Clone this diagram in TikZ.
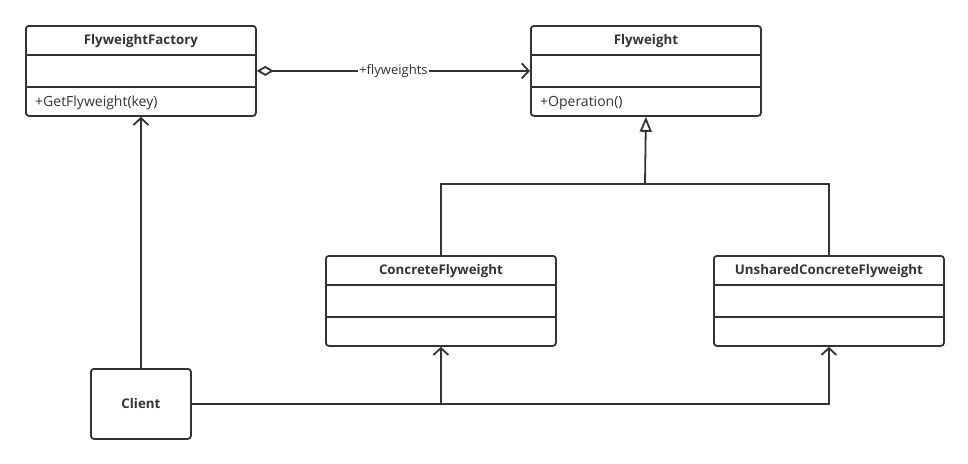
\documentclass[tikz,border=0pt]{standalone}
\usepackage{fontspec}
\setmainfont{Open Sans}
\usetikzlibrary{arrows.meta}
\definecolor{lc}{HTML}{333333}
\tikzset{
  cls/.style={draw=lc, line width=1.8pt, rounded corners=3pt, minimum width=230pt, minimum height=90pt, inner sep=0pt, anchor=north west},
  clientbox/.style={draw=lc, line width=1.8pt, rounded corners=3pt, minimum width=100pt, minimum height=70pt, inner sep=0pt, anchor=north west, font=\bfseries\fontsize{13.3}{15}\selectfont, text=lc},
  sep/.style={draw=lc, line width=1.8pt},
  ttl/.style={font=\bfseries\fontsize{13.3}{15}\selectfont, text=lc},
  mth/.style={font=\fontsize{14}{16}\selectfont, text=lc, anchor=west, inner sep=0pt},
  conn/.style={draw=lc, line width=1.8pt},
  opn/.style={conn, -{Straight Barb[length=7pt,width=15pt,line width=1.8pt]}},
  inh/.style={conn, -{Triangle[open,length=15pt,width=12pt,line width=1.8pt]}},
}
\begin{document}
\begin{tikzpicture}[x=1pt,y=-1pt]
\fill[white] (0,0) rectangle (968,463);
\useasboundingbox (0,0) rectangle (968,463);
% classes
\node[cls] (fac) at (25,25) {};
\node[cls] (fw) at (530,25) {};
\node[cls] (cf) at (325,255) {};
\node[cls] (ucf) at (713,255) {};
\foreach \n in {fac,fw,cf,ucf}{
  \draw[sep] ([yshift=-30pt]\n.north west) -- ([yshift=-30pt]\n.north east);
  \draw[sep] ([yshift=30pt]\n.south west) -- ([yshift=30pt]\n.south east);
}
\node[ttl] (facT) at ([yshift=-16pt]fac.north) {FlyweightFactory};
\node[ttl] (fwT) at ([yshift=-16pt]fw.north) {Flyweight};
\node[ttl] (cfT) at ([yshift=-16pt]cf.north) {ConcreteFlyweight};
\node[ttl] (ucfT) at ([yshift=-16pt]ucf.north) {UnsharedConcreteFlyweight};
\node[mth] (facM) at ([xshift=10pt,yshift=14pt]fac.south west) {+GetFlyweight(key)};
\node[mth] (fwM) at ([xshift=10pt,yshift=14pt]fw.south west) {+Operation()};
\node[clientbox] (cl) at (90,368) {Client};
% aggregation
\draw[conn, {Diamond[open,length=17pt,width=10pt,line width=1.8pt]}-{Straight Barb[length=7pt,width=15pt,line width=1.8pt]}]
  (fac.east) -- (fw.west)
  node[pos=0.5, fill=white, inner sep=1pt, text=lc, font=\fontsize{13}{15}\selectfont] (lbl) {+flyweights};
% generalization
\coordinate (j) at (645,184);
\draw[conn] (cf.north) |- (j) -| (ucf.north);
\draw[inh] (j) -- (fw.south);
% client dependencies
\draw[opn] (cl.north) -- (fac.south);
\draw[opn] (cl.east) -| (ucf.south);
\draw[opn] (cl.east -| cf.south) -- (cf.south);
\end{tikzpicture}
\end{document}
